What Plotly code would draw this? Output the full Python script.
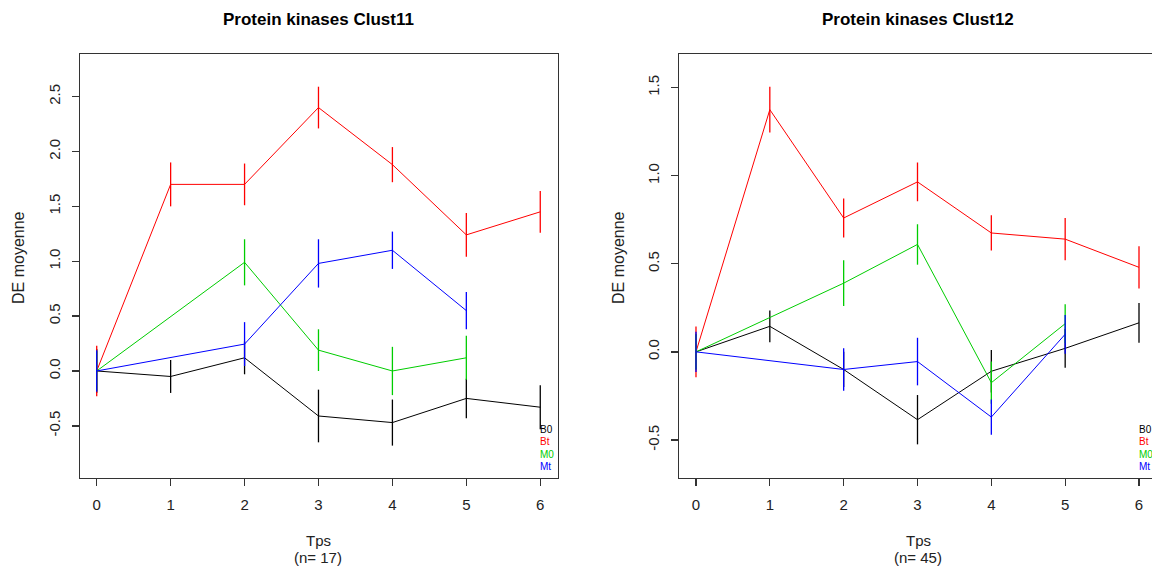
import plotly.graph_objects as go

# ---------------- data ----------------
tps = [0, 1, 2, 3, 4, 5, 6]
series_names = ["B0", "Bt", "M0", "Mt"]
series_colors = ["#000000", "#FF0000", "#00CD00", "#0000FF"]

# Clust11
c11_B0 = [0.0, -0.05, 0.12, -0.41, -0.47, -0.25, -0.33]
c11_B0_err = [0.20, 0.15, 0.15, 0.24, 0.21, 0.18, 0.20]
c11_Bt = [0.0, 1.70, 1.70, 2.40, 1.88, 1.24, 1.45]
c11_Bt_err = [0.23, 0.20, 0.19, 0.19, 0.16, 0.20, 0.19]
c11_M0 = [0.0, None, 0.99, 0.19, 0.0, 0.12, None]
c11_M0_err = [0.18, None, 0.21, 0.19, 0.22, 0.20, None]
c11_Mt = [0.0, None, 0.245, 0.98, 1.10, 0.55, None]
c11_Mt_err = [0.19, None, 0.20, 0.22, 0.17, 0.17, None]

# Clust12
c12_B0 = [0.0, 0.145, -0.10, -0.385, -0.11, 0.02, 0.165]
c12_B0_err = [0.10, 0.09, 0.10, 0.14, 0.12, 0.11, 0.113]
c12_Bt = [0.0, 1.375, 0.76, 0.965, 0.675, 0.64, 0.48]
c12_Bt_err = [0.144, 0.13, 0.11, 0.11, 0.10, 0.12, 0.12]
c12_M0 = [0.0, None, 0.39, 0.61, -0.175, 0.16, None]
c12_M0_err = [0.10, None, 0.13, 0.115, 0.12, 0.11, None]
c12_Mt = [0.0, None, -0.10, -0.055, -0.37, 0.10, None]
c12_Mt_err = [0.114, None, 0.12, 0.135, 0.10, 0.11, None]

titles = ["Protein kinases Clust11", "Protein kinases Clust12"]
n_labels = ["(n= 17)", "(n= 45)"]
x_label = "Tps"
y_label = "DE moyenne"

c11_yticks = [-0.5, 0.0, 0.5, 1.0, 1.5, 2.0, 2.5]
c11_yticktext = ["-0.5", "0.0", "0.5", "1.0", "1.5", "2.0", "2.5"]
c12_yticks = [-0.5, 0.0, 0.5, 1.0, 1.5]
c12_yticktext = ["-0.5", "0.0", "0.5", "1.0", "1.5"]

# ---------------- figure ----------------
W, H = 1152, 566
FONT = "Liberation Sans, Arial, sans-serif"


def fx(px):
    return px / W


def fy(py):
    return 1 - py / H


fig = go.Figure()

panels = [
    (["x", "y"], [c11_B0, c11_Bt, c11_M0, c11_Mt], [c11_B0_err, c11_Bt_err, c11_M0_err, c11_Mt_err]),
    (["x2", "y2"], [c12_B0, c12_Bt, c12_M0, c12_Mt], [c12_B0_err, c12_Bt_err, c12_M0_err, c12_Mt_err]),
]

for (xa, ya), vals, errs in panels:
    for name, color, v, e in zip(series_names, series_colors, vals, errs):
        fig.add_trace(go.Scatter(
            x=tps, y=v, mode="lines", xaxis=xa, yaxis=ya,
            line=dict(color=color, width=1), connectgaps=True,
            error_y=dict(type="data", array=e, visible=True, color=color,
                         thickness=1.3, width=0),
            showlegend=False, hoverinfo="skip",
        ))

left_dom = [fx(80), fx(558)]
right_dom = [fx(679.3), 1.0]
y_dom = [fy(478), fy(54)]

TICKFONT = dict(family=FONT, size=15, color="#222")
xaxis_common = dict(showline=True, linecolor="#333", linewidth=1.3, mirror=True,
                    showgrid=False, zeroline=False, ticks="outside", ticklen=7,
                    tickcolor="#333", tickwidth=1.3, tickfont=TICKFONT,
                    ticklabelstandoff=6)
yaxis_common = dict(showline=True, linecolor="#333", linewidth=1.3,
                    showgrid=False, zeroline=False, ticks="outside", ticklen=7,
                    tickcolor="#333", tickwidth=1.3, tickfont=TICKFONT,
                    tickangle=-90, ticklabelstandoff=6)

fig.update_layout(
    width=W, height=H, margin=dict(l=0, r=0, t=0, b=0),
    paper_bgcolor="white", plot_bgcolor="white",
    xaxis=dict(domain=left_dom, range=[-0.226, 6.24], tickvals=tps, anchor="y",
               **xaxis_common),
    yaxis=dict(domain=y_dom, range=[-0.975, 2.888], tickvals=c11_yticks,
               ticktext=c11_yticktext, anchor="x", mirror=True, **yaxis_common),
    xaxis2=dict(domain=right_dom, range=[-0.226, 6.176], tickvals=tps, anchor="y2",
                **xaxis_common),
    yaxis2=dict(domain=y_dom, range=[-0.716, 1.691], tickvals=c12_yticks,
                ticktext=c12_yticktext, anchor="x2", mirror=False, **yaxis_common),
)

ann = []
centers = [318, 918]
ylab_xs = [18, 618]
for i, (xa, xc) in enumerate(zip(["x", "x2"], centers)):
    ann.append(dict(text="<b>" + titles[i] + "</b>", x=fx(xc), y=fy(19),
                    xref="paper", yref="paper", xanchor="center", yanchor="middle",
                    showarrow=False, font=dict(family=FONT, size=17, color="black")))
    ann.append(dict(text=x_label, x=fx(xc), y=fy(540), xref="paper", yref="paper",
                    xanchor="center", yanchor="middle", showarrow=False,
                    font=dict(family=FONT, size=15, color="#222")))
    ann.append(dict(text=n_labels[i], x=fx(xc), y=fy(557), xref="paper", yref="paper",
                    xanchor="center", yanchor="middle", showarrow=False,
                    font=dict(family=FONT, size=15, color="#222")))
    ann.append(dict(text=y_label, x=fx(ylab_xs[i]), y=fy(258), xref="paper", yref="paper",
                    xanchor="center", yanchor="middle", textangle=-90, showarrow=False,
                    font=dict(family=FONT, size=16, color="#222")))
    for j, (nm, col) in enumerate(zip(series_names, series_colors)):
        ann.append(dict(text=nm, x=6, xref=xa, xanchor="left", xshift=-2.5,
                        y=fy(429.5 + 12.4 * j), yref="paper", yanchor="middle",
                        showarrow=False, font=dict(family=FONT, size=10, color=col)))

fig.update_layout(annotations=ann)

fig.write_html(
    "out.html",
    config={"displayModeBar": False, "staticPlot": True},
    post_script="document.body.style.margin='0';document.body.style.overflow='hidden';",
)
